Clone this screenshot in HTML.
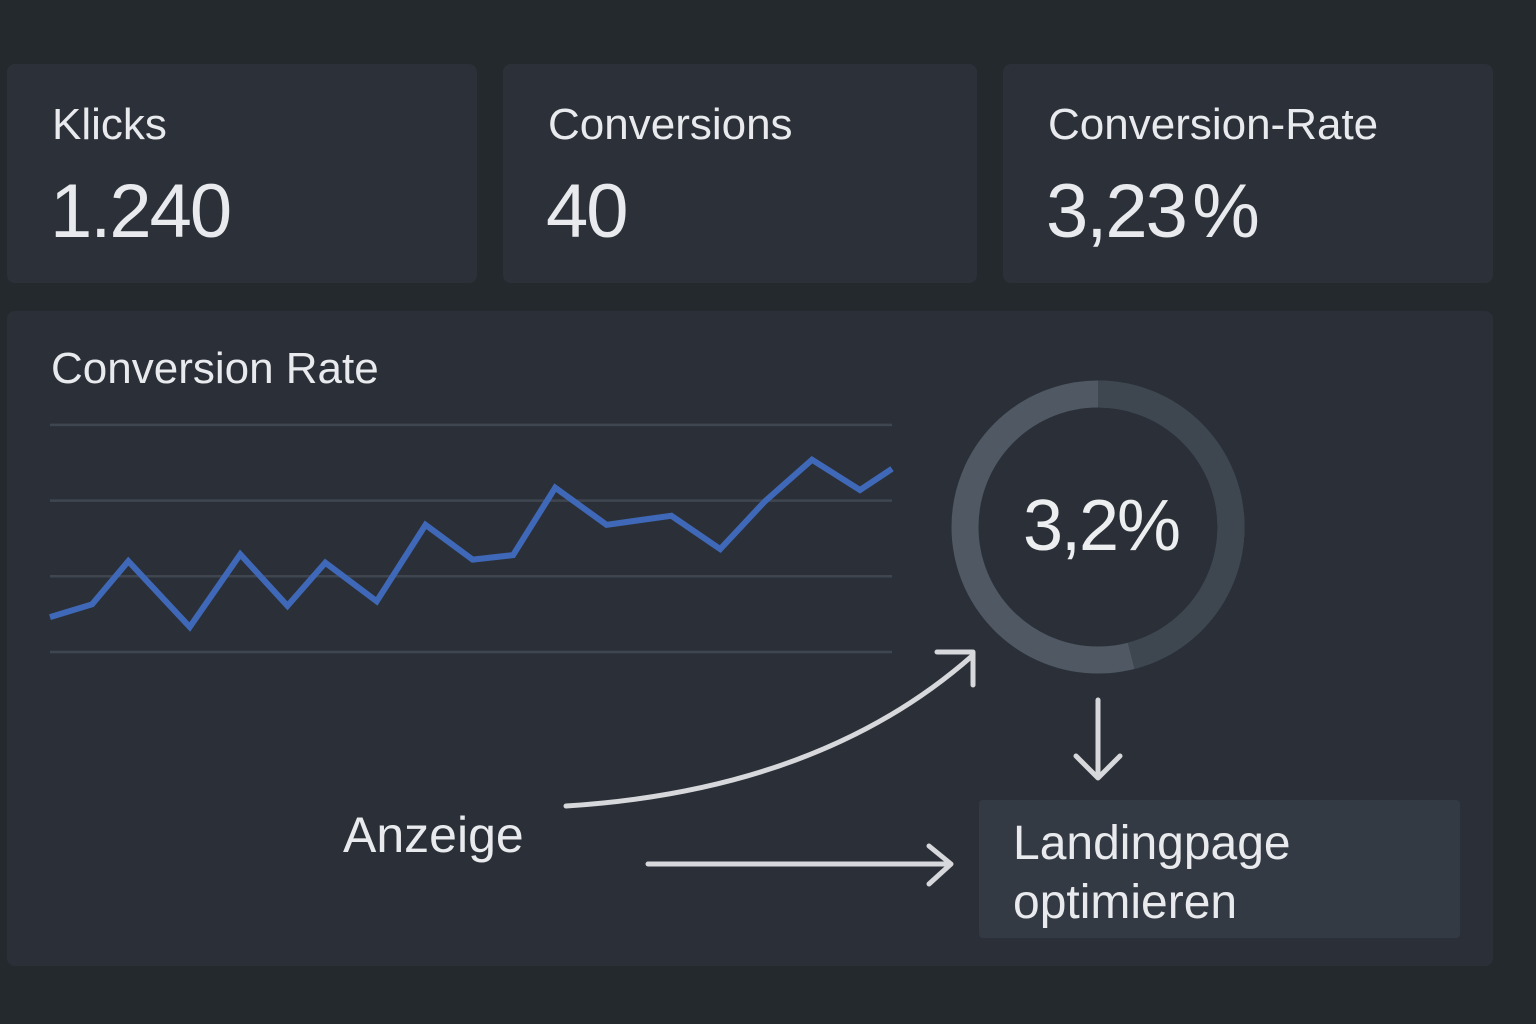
<!DOCTYPE html>
<html><head><meta charset="utf-8"><style>
body{margin:0;width:1536px;height:1024px;background:#24292e;font-family:"Liberation Sans",sans-serif;overflow:hidden;position:relative;color:#e8eaed}
.card{position:absolute;background:#2c3139;border-radius:8px}
.lbl{position:absolute;left:45px;top:36px;font-size:44px}
.val{position:absolute;left:43px;top:104px;font-size:76px;letter-spacing:-2px}
</style></head><body>
<div class="card" style="left:7px;top:64px;width:470px;height:219px">
<div class="lbl">Klicks</div><div class="val">1.240</div></div>
<div class="card" style="left:503px;top:64px;width:474px;height:219px">
<div class="lbl">Conversions</div><div class="val">40</div></div>
<div class="card" style="left:1003px;top:64px;width:490px;height:219px">
<div class="lbl">Conversion-Rate</div><div class="val">3,23<span style="letter-spacing:0">&#8202;</span>%</div></div>
<div class="card" style="left:7px;top:311px;width:1486px;height:655px;background:#2b3038"></div>
<div style="position:absolute;left:51px;top:344px;font-size:44px">Conversion Rate</div>
<svg id="svg" width="1536" height="1024" style="position:absolute;left:0;top:0">
<g id="grid"></g><g id="line"></g>
<circle cx="1098" cy="527" r="133" fill="none" stroke="#4f5863" stroke-width="27"/>
<path id="donutSeg" fill="none" stroke="#3e4650" stroke-width="27"/>
<text x="1101" y="550" text-anchor="middle" font-size="72" fill="#eceef0" font-family="Liberation Sans" letter-spacing="-2">3,2%</text>
<g fill="none" stroke="#d6d8db" stroke-width="5" stroke-linecap="round" stroke-linejoin="round">
<path d="M566 806 Q820 790 972 656 M937 652 L973 652 L973 685"/>
<path d="M648 864 L950 864 M929 846 L951 864 L929 884"/>
<path d="M1098 700 L1098 776 M1076 756 L1098 778 L1120 756"/>
</g>
<text x="343" y="852" font-size="50" fill="#e8eaed" font-family="Liberation Sans">Anzeige</text>
<rect x="979" y="800" width="481" height="138" rx="4" fill="#343a43"/>
<text x="1013" y="859" font-size="48" fill="#e8eaed" font-family="Liberation Sans">Landingpage</text>
<text x="1013" y="918" font-size="48" fill="#e8eaed" font-family="Liberation Sans">optimieren</text>
</svg>
<script>
const days=[0,5,9.3,16.6,22.6,28.2,32.7,38.8,44.6,50.2,55,60,66.1,73.8,79.6,84.9,90.5,96.2,100];
const rates=[1.46,1.63,2.2,1.33,2.29,1.61,2.18,1.67,2.68,2.22,2.28,3.17,2.68,2.8,2.36,2.99,3.54,3.14,3.42];
const gridValues=[1,2,3,4];
const donutDarkFraction=0.46;
const NS="http://www.w3.org/2000/svg";
const xS=d=>50+d/100*842, yS=v=>652-(v-1)*75.7;
const g=document.getElementById('grid');
gridValues.forEach(v=>{const l=document.createElementNS(NS,'line');


l.setAttribute('x1',50);l.setAttribute('x2',892);l.setAttribute('y1',yS(v));l.setAttribute('y2',yS(v));
l.setAttribute('stroke','#3f4650');l.setAttribute('stroke-width','2.5');g.appendChild(l);});
const p=document.createElementNS(NS,'polyline');


p.setAttribute('points',days.map((d,i)=>xS(d)+','+yS(rates[i])).join(' '));
p.setAttribute('fill','none');p.setAttribute('stroke','#3f69b8');p.setAttribute('stroke-width','6');p.setAttribute('stroke-linejoin','miter');
document.getElementById('line').appendChild(p);
const a=donutDarkFraction*2*Math.PI,r=133;
const ex=1098+r*Math.sin(a),ey=527-r*Math.cos(a);
document.getElementById('donutSeg').setAttribute('d',`M1098 ${527-r} A${r} ${r} 0 ${a>Math.PI?1:0} 1 ${ex} ${ey}`);
</script>
</body></html>
